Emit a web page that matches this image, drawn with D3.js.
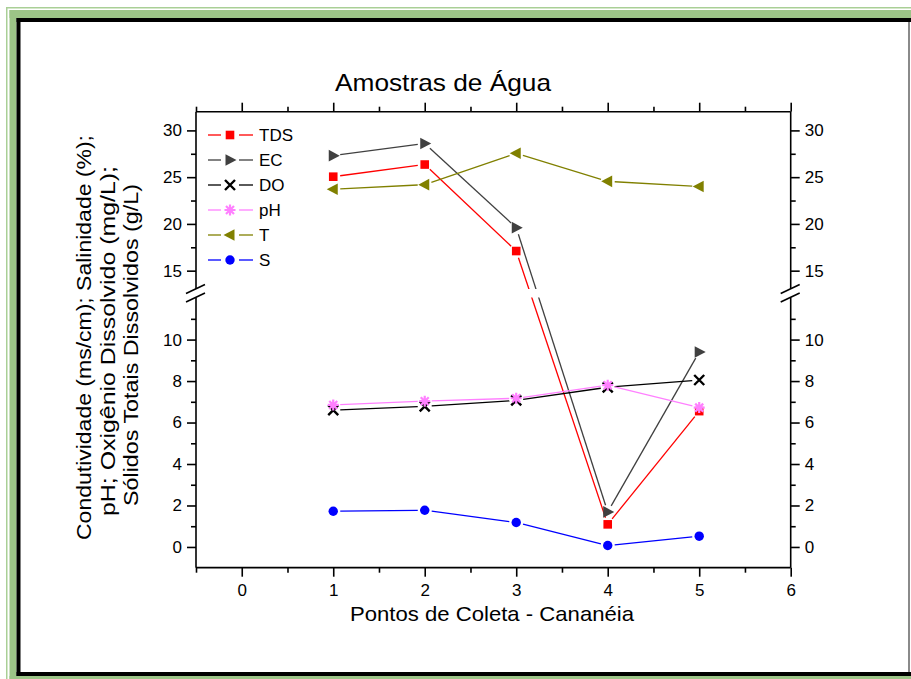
<!DOCTYPE html>
<html><head><meta charset="utf-8">
<script src="https://cdn.jsdelivr.net/npm/d3@7"></script>
<style>
body{margin:0;background:#fff}
svg{display:block}
text{font-family:"Liberation Sans",Arial,sans-serif;fill:#000}
</style>
</head><body>
<svg id="chart" width="911" height="679"></svg>
<script>
// Sampling points along the Cananéia estuary
const points = [1, 2, 3, 4, 5];
const tds = [25.05, 26.35, 17.1, 1.09, 6.55];
const ec = [27.3, 28.6, 19.6, 1.69, 9.4];
const oxygen = [6.6, 6.78, 7.07, 7.7, 8.05];
const ph = [6.85, 7.03, 7.17, 7.8, 6.72];
const temperature = [23.7, 24.2, 27.55, 24.55, 24.0];
const salinity = [1.72, 1.77, 1.18, 0.07, 0.52];

const seriesNames = ["TDS", "EC", "DO", "pH", "T", "S"];
const xTicks = [0, 1, 2, 3, 4, 5, 6];
const xMinorTicks = [-0.5, 0.5, 1.5, 2.5, 3.5, 4.5, 5.5];
const yTicksLower = [0, 2, 4, 6, 8, 10];
const yMinorLower = [1, 3, 5, 7, 9, 11];
const yTicksUpper = [15, 20, 25, 30];
const yMinorUpper = [17.5, 22.5, 27.5];

const series = [
  {name: seriesNames[0], values: tds, line: "#ff0000", fill: "#ff0000", sym: "square"},
  {name: seriesNames[1], values: ec, line: "#404040", fill: "#404040", sym: "triRight"},
  {name: seriesNames[2], values: oxygen, line: "#000000", fill: "#000000", sym: "cross"},
  {name: seriesNames[3], values: ph, line: "#ff80ff", fill: "#ff80ff", sym: "star"},
  {name: seriesNames[4], values: temperature, line: "#808000", fill: "#808000", sym: "triLeft"},
  {name: seriesNames[5], values: salinity, line: "#0000ff", fill: "#0000ff", sym: "circle"}
];

const svg = d3.select("#chart");

// ---- page frame ----
const frame = svg.append("g");
frame.append("rect").attr("x", 6).attr("y", 7).attr("width", 1.5).attr("height", 679).attr("fill", "#a9cf96");
frame.append("rect").attr("x", 6).attr("y", 7).attr("width", 911).attr("height", 1.5).attr("fill", "#a9cf96");
frame.append("rect").attr("x", 9.5).attr("y", 10).attr("width", 7).attr("height", 679).attr("fill", "#9cc487");
frame.append("rect").attr("x", 9.5).attr("y", 10).attr("width", 911).attr("height", 8).attr("fill", "#9cc487");
frame.append("rect").attr("x", 16.5).attr("y", 18).attr("width", 4).attr("height", 658).attr("fill", "#000");
frame.append("rect").attr("x", 16.5).attr("y", 18).attr("width", 895).attr("height", 4).attr("fill", "#000");
frame.append("rect").attr("x", 16.5).attr("y", 672).attr("width", 895).attr("height", 4).attr("fill", "#000");
frame.append("rect").attr("x", 9.5).attr("y", 676).attr("width", 902).attr("height", 3).attr("fill", "#9cc487");
frame.append("rect").attr("x", 908).attr("y", 22).attr("width", 2).attr("height", 650).attr("fill", "#8a8a8a");

// ---- scales ----
const plotLeft = 196, plotRight = 790.7, plotTop = 111.7, plotBottom = 567.7;
const x = d3.scaleLinear().domain([-0.5, 6]).range([plotLeft, plotRight]);
const yLow = d3.scaleLinear().domain([-1, 11.6]).range([plotBottom, 306.4]);
const yUp = d3.scaleLinear().domain([13.2, 32]).range([287.5, plotTop]);
const breakTop = 289, breakBottom = 297.5;
const y = v => (v > 12.4 ? yUp(v) : yLow(v));

// ---- axes ----
const axisG = svg.append("g").attr("class", "axes");
function styleAxis(g, fs) {
  g.select(".domain").remove();
  g.selectAll(".tick line").attr("stroke", "#000").attr("stroke-width", 1.6);
  g.selectAll(".tick text").style("font-size", fs + "px").style("font-family", '"Liberation Sans",Arial,sans-serif').attr("fill", "#000");
}
// bottom
axisG.append("g").attr("transform", `translate(0,${plotBottom})`)
  .call(d3.axisBottom(x).tickValues(xTicks).tickFormat(d3.format("d")).tickSize(9).tickPadding(7))
  .call(g => styleAxis(g, 17));
axisG.append("g").attr("transform", `translate(0,${plotBottom})`)
  .call(d3.axisBottom(x).tickValues(xMinorTicks).tickFormat("").tickSize(5))
  .call(g => styleAxis(g, 17));
// top (mirror ticks, no labels)
axisG.append("g").attr("transform", `translate(0,${plotTop})`)
  .call(d3.axisTop(x).tickValues(xTicks).tickFormat("").tickSize(9))
  .call(g => styleAxis(g, 17));
axisG.append("g").attr("transform", `translate(0,${plotTop})`)
  .call(d3.axisTop(x).tickValues(xMinorTicks).tickFormat("").tickSize(5))
  .call(g => styleAxis(g, 17));

// left and right, both segments
[[plotLeft, d3.axisLeft], [plotRight, d3.axisRight]].forEach(([xp, mk]) => {
  axisG.append("g").attr("transform", `translate(${xp},0)`)
    .call(mk(yLow).tickValues(yTicksLower).tickFormat(d3.format("d")).tickSize(9).tickPadding(5))
    .call(g => styleAxis(g, 17));
  axisG.append("g").attr("transform", `translate(${xp},0)`)
    .call(mk(yLow).tickValues(yMinorLower).tickFormat("").tickSize(5))
    .call(g => styleAxis(g, 17));
  axisG.append("g").attr("transform", `translate(${xp},0)`)
    .call(mk(yUp).tickValues(yTicksUpper).tickFormat(d3.format("d")).tickSize(9).tickPadding(5))
    .call(g => styleAxis(g, 17));
  axisG.append("g").attr("transform", `translate(${xp},0)`)
    .call(mk(yUp).tickValues(yMinorUpper).tickFormat("").tickSize(5))
    .call(g => styleAxis(g, 17));
  // spine with a gap for the break
  axisG.append("line").attr("x1", xp).attr("x2", xp).attr("y1", plotTop).attr("y2", breakTop)
    .attr("stroke", "#000").attr("stroke-width", 1.6);
  axisG.append("line").attr("x1", xp).attr("x2", xp).attr("y1", breakBottom).attr("y2", plotBottom)
    .attr("stroke", "#000").attr("stroke-width", 1.6);
  // break marks
  [breakTop, breakBottom].forEach(by => {
    axisG.append("line").attr("x1", xp - 10).attr("y1", by + 4.5).attr("x2", xp + 9).attr("y2", by - 4.5)
      .attr("stroke", "#000").attr("stroke-width", 1.6);
  });
});
// horizontal spines
axisG.append("line").attr("x1", plotLeft).attr("x2", plotRight).attr("y1", plotBottom).attr("y2", plotBottom)
  .attr("stroke", "#000").attr("stroke-width", 1.8);
axisG.append("line").attr("x1", plotLeft).attr("x2", plotRight).attr("y1", plotTop).attr("y2", plotTop)
  .attr("stroke", "#000").attr("stroke-width", 1.6);

// ---- titles ----
svg.append("text").attr("x", 443).attr("y", 91).attr("text-anchor", "middle")
  .attr("textLength", 216).attr("lengthAdjust", "spacingAndGlyphs")
  .style("font-size", "24px").text("Amostras de Água");
svg.append("text").attr("x", 492).attr("y", 621).attr("text-anchor", "middle")
  .attr("textLength", 284).attr("lengthAdjust", "spacingAndGlyphs")
  .style("font-size", "21px").text("Pontos de Coleta - Cananéia");
const yTitle = [
  "Condutividade (ms/cm); Salinidade (%);",
  "pH; Oxigênio Dissolvido (mg/L);",
  "Sólidos Totais Dissolvidos (g/L)"
];
const yTitleLen = [405, 350, 322];
const yTitleMid = [337.5, 341, 345];
yTitle.forEach((t, i) => {
  const bx = 91 + i * 23.5;
  svg.append("text").attr("transform", `translate(${bx},${yTitleMid[i]}) rotate(-90)`)
    .attr("text-anchor", "middle")
    .attr("textLength", yTitleLen[i]).attr("lengthAdjust", "spacingAndGlyphs")
    .style("font-size", "21px").text(t);
});

// ---- symbols ----
function drawSymbol(g, type, cx, cy, color) {
  const s = g.append("g").attr("transform", `translate(${cx},${cy})`);
  if (type === "square") {
    s.append("rect").attr("x", -4.3).attr("y", -4.3).attr("width", 8.6).attr("height", 8.6).attr("fill", color);
  } else if (type === "triRight") {
    s.append("path").attr("d", "M-4.5,-5.8L6.5,0L-4.5,5.8Z").attr("fill", color);
  } else if (type === "triLeft") {
    s.append("path").attr("d", "M4.5,-5.8L-6.5,0L4.5,5.8Z").attr("fill", color);
  } else if (type === "circle") {
    s.append("circle").attr("r", 4.7).attr("fill", color);
  } else if (type === "cross") {
    s.append("path").attr("d", "M-5,-5L5,5M-5,5L5,-5").attr("stroke", color).attr("stroke-width", 2.4).attr("fill", "none");
  } else if (type === "star") {
    s.append("path").attr("d", "M0,-5.5L0,5.5M-5.5,0L5.5,0M-4,-4L4,4M-4,4L4,-4")
      .attr("stroke", color).attr("stroke-width", 2.2).attr("fill", "none");
  }
}

// ---- data ----
const clipId = "breakClip";
const clip = svg.append("defs").append("clipPath").attr("id", clipId);
clip.append("rect").attr("x", plotLeft).attr("y", 0).attr("width", plotRight - plotLeft).attr("height", breakTop);
clip.append("rect").attr("x", plotLeft).attr("y", breakBottom).attr("width", plotRight - plotLeft).attr("height", 679 - breakBottom);

const plotG = svg.append("g");
const gap = 7;
series.forEach(s => {
  const pts = points.map((p, i) => [x(p), y(s.values[i])]);
  const lg = plotG.append("g").attr("clip-path", `url(#${clipId})`);
  for (let i = 0; i < pts.length - 1; i++) {
    const [x1, y1] = pts[i], [x2, y2] = pts[i + 1];
    const len = Math.hypot(x2 - x1, y2 - y1);
    const ux = (x2 - x1) / len, uy = (y2 - y1) / len;
    lg.append("line")
      .attr("x1", x1 + ux * gap).attr("y1", y1 + uy * gap)
      .attr("x2", x2 - ux * gap).attr("y2", y2 - uy * gap)
      .attr("stroke", s.line).attr("stroke-width", 1.3);
  }
});
series.forEach(s => {
  points.forEach((p, i) => drawSymbol(plotG, s.sym, x(p), y(s.values[i]), s.fill));
});

// ---- legend ----
const legend = svg.append("g");
series.forEach((s, i) => {
  const ly = 135 + i * 25;
  legend.append("line").attr("x1", 208).attr("x2", 221).attr("y1", ly).attr("y2", ly)
    .attr("stroke", s.line).attr("stroke-width", 1.3);
  legend.append("line").attr("x1", 239).attr("x2", 253).attr("y1", ly).attr("y2", ly)
    .attr("stroke", s.line).attr("stroke-width", 1.3);
  drawSymbol(legend, s.sym, 230, ly, s.fill);
  legend.append("text").attr("x", 259).attr("y", ly).attr("dy", "0.36em")
    .style("font-size", "17px").text(s.name);
});
</script>
</body></html>
